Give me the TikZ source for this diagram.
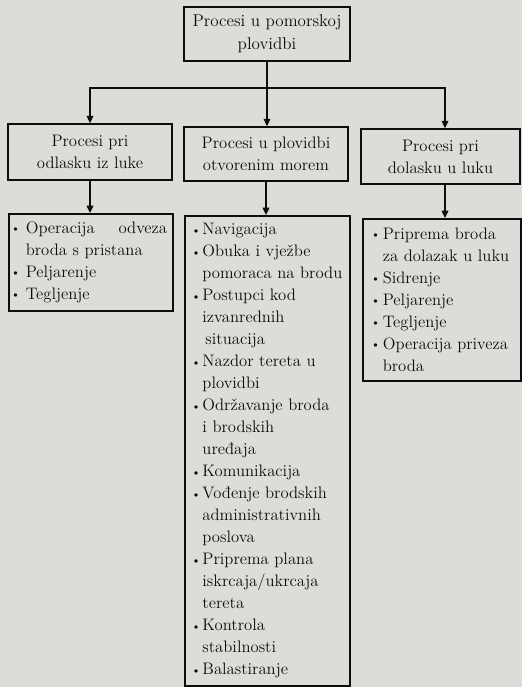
\documentclass[tikz,border=0pt]{standalone}
\usepackage{graphicx}
\usetikzlibrary{arrows.meta}
\definecolor{bg}{HTML}{DDDCD8}
\definecolor{ink}{HTML}{0D0D0D}
\newlength\bulw
\newcommand\bitem[1]{\makebox[\bulw][l]{\raisebox{0.1ex}{\scalebox{0.75}{\textbullet}}}#1}
\newcommand\cont[1]{\hspace*{\bulw}#1}
\begin{document}
\begin{tikzpicture}[x=0.75pt,y=-0.75pt,
 box/.style={draw=ink, line width=1.2pt, fill=bg, inner sep=0pt, font=\fontsize{12.5}{16.5}\selectfont, text=ink},
 head/.style={box, align=center, anchor=center},
 list/.style={box, align=left, anchor=north west},
 conn/.style={draw=ink, line width=1pt},
 arr/.style={conn, -{Triangle[length=5.5pt,width=5pt]}}]
\fill[bg] (0,0) rectangle (522,687);
\useasboundingbox (0,0) rectangle (522,687);

\node[head, minimum width=124.5pt, minimum height=40.5pt, font=\fontsize{12.8}{17.5}\selectfont] (top) at (267,34) {Procesi u pomorskoj\\plovidbi};

\node[head, minimum width=123pt, minimum height=42pt] (l2a) at (90,152) {Procesi pri\\odlasku iz luke};
\node[head, minimum width=123pt, minimum height=40.5pt] (l2b) at (266,154) {Procesi u plovidbi\\otvorenim morem};
\node[head, minimum width=119.25pt, minimum height=41.25pt] (l2c) at (440.5,156.5) {Procesi pri\\dolasku u luku};

\node[list, inner xsep=1.5pt, text width=120pt, minimum height=72.75pt] (l3a) at (8,213)
 {\setlength\bulw{11.25pt}\bitem{\makebox[106pt][l]{Operacija\hfill odveza}}\\
  \cont{broda s pristana}\\
  \bitem{Peljarenje}\\
  \bitem{Tegljenje}};

\node[list, inner xsep=5pt, text width=113.75pt, minimum height=352.5pt] (l3b) at (184,215)
 {\setlength\bulw{8.25pt}\bitem{Navigacija}\\
  \bitem{Obuka i vježbe}\\
  \cont{pomoraca na brodu}\\
  \bitem{Postupci kod}\\
  \cont{izvanrednih}\\
  \cont{\hspace*{2.25pt}situacija}\\
  \bitem{Nazdor tereta u}\\
  \cont{plovidbi}\\
  \bitem{Održavanje broda}\\
  \cont{i brodskih}\\
  \cont{uređaja}\\
  \bitem{Komunikacija}\\
  \bitem{Vođenje brodskih}\\
  \cont{administrativnih}\\
  \cont{poslova}\\
  \bitem{Priprema plana}\\
  \cont{iskrcaja/ukrcaja}\\
  \cont{tereta}\\
  \bitem{Kontrola}\\
  \cont{stabilnosti}\\
  \bitem{Balastiranje}};

\node[list, inner xsep=6pt, text width=106.5pt, minimum height=121.5pt] (l3c) at (362,218)
 {\setlength\bulw{9pt}\bitem{Priprema broda}\\
  \cont{za dolazak u luku}\\
  \bitem{Sidrenje}\\
  \bitem{Peljarenje}\\
  \bitem{Tegljenje}\\
  \bitem{Operacija priveza}\\
  \cont{broda}};

\coordinate (bus) at (0,88);
\coordinate (colc) at (445,0);
\draw[conn] (top.south) -- (top.south |- bus);
\draw[arr] (top.south |- bus) -| (l2a.north);
\draw[arr] (top.south |- bus) -| (l2c.north -| colc);
\draw[arr] (top.south) -- (top.south |- l2b.north);
\draw[arr] (l2a.south) -- (l2a.south |- l3a.north);
\draw[arr] (l2b.south) -- (l2b.south |- l3b.north);
\draw[arr] (l2c.south -| colc) -- (l3c.north -| colc);
\end{tikzpicture}
\end{document}
